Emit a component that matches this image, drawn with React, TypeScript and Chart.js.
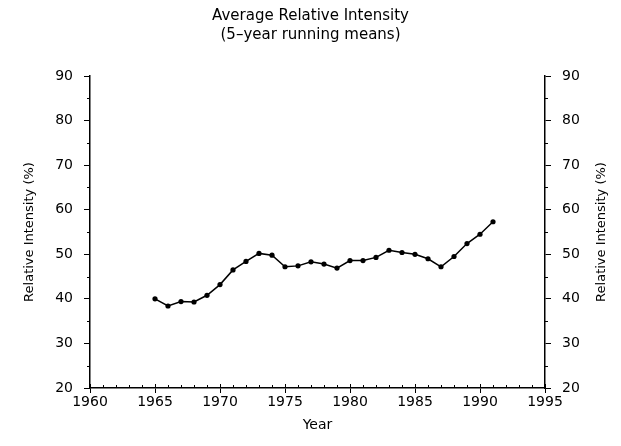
import React, { useEffect, useRef } from "react";
import { Chart, registerables } from "chart.js";

Chart.register(...registerables);

const years: number[] = [
  1965, 1966, 1967, 1968, 1969, 1970, 1971, 1972, 1973, 1974, 1975, 1976, 1977, 1978,
  1979, 1980, 1981, 1982, 1983, 1984, 1985, 1986, 1987, 1988, 1989, 1990, 1991,
];
const intensity: number[] = [
  40.0, 38.4, 39.4, 39.3, 40.8, 43.2, 46.5, 48.4, 50.2, 49.8, 47.2, 47.4, 48.3, 47.8,
  46.9, 48.6, 48.6, 49.3, 50.9, 50.4, 50.0, 49.0, 47.2, 49.5, 52.4, 54.5, 57.3,
];
const titleLines: string[] = ["Average Relative Intensity", "(5\u2013year running means)"];
const xTitle = "Year";
const yTitle = "Relative Intensity (%)";
const xMin = 1960;
const xMax = 1995;
const yMin = 20;
const yMax = 90;

const FONT = "'DejaVu Sans', sans-serif";

const minorTicks = {
  id: "minorTicks",
  afterDraw(chart: any) {
    const { ctx, chartArea } = chart;
    const xs = chart.scales.x;
    const ys = chart.scales.y;
    ctx.save();
    ctx.strokeStyle = "#000";
    ctx.lineWidth = 1;
    ctx.beginPath();
    for (let yr = xMin; yr <= xMax; yr++) {
      const px = Math.round(xs.getPixelForValue(yr)) + 0.5;
      const len = yr % 5 === 0 ? 4 : 3;
      ctx.moveTo(px, chartArea.bottom);
      ctx.lineTo(px, chartArea.bottom - len);
    }
    for (let v = yMin + 5; v < yMax; v += 10) {
      const py = Math.round(ys.getPixelForValue(v)) + 0.5;
      ctx.moveTo(chartArea.left, py);
      ctx.lineTo(chartArea.left - 3, py);
      ctx.moveTo(chartArea.right, py);
      ctx.lineTo(chartArea.right + 3, py);
    }
    ctx.stroke();
    // right axis title, reading bottom-to-top like the left one
    ctx.fillStyle = "#000";
    ctx.font = `13px ${FONT}`;
    ctx.textAlign = "center";
    ctx.textBaseline = "middle";
    ctx.translate(chart.width - 19, (chartArea.top + chartArea.bottom) / 2);
    ctx.rotate(-Math.PI / 2);
    ctx.fillText(yTitle, 0, 0);
    ctx.restore();
  },
};

export default function App() {
  const ref = useRef<HTMLCanvasElement | null>(null);
  useEffect(() => {
    if (!ref.current) return;
    const yAxis = (position: "left" | "right", width: number, showTitle: boolean) => ({
      type: "linear" as const,
      position,
      min: yMin,
      max: yMax,
      afterFit: (s: any) => {
        s.width = width;
      },
      ticks: { stepSize: 10, color: "#000", padding: 11, font: { family: FONT, size: 14 } },
      grid: {
        drawOnChartArea: false,
        drawTicks: true,
        tickLength: 6,
        tickColor: "#000",
        tickWidth: 1,
      },
      border: { display: true, color: "#000", width: 1.5 },
      title: {
        display: showTitle,
        text: yTitle,
        color: "#000",
        font: { family: FONT, size: 13 },
        padding: { top: 22, bottom: 0 },
      },
    });
    const chart = new Chart(ref.current, {
      type: "line",
      data: {
        datasets: [
          {
            data: years.map((x, i) => ({ x, y: intensity[i] })),
            borderColor: "#000",
            backgroundColor: "#000",
            borderWidth: 1.5,
            pointRadius: 2.6,
            pointBackgroundColor: "#000",
            pointBorderWidth: 0,
            tension: 0,
            yAxisID: "y",
          },
        ],
      },
      options: {
        responsive: false,
        animation: false,
        layout: { padding: 0 },
        plugins: {
          legend: { display: false },
          tooltip: { enabled: false },
          title: {
            display: true,
            text: titleLines,
            color: "#000",
            font: { family: FONT, size: 15, weight: "normal", lineHeight: 1.3 },
            padding: { top: 6, bottom: 31 },
          },
        },
        scales: {
          x: {
            type: "linear",
            position: "bottom",
            min: xMin,
            max: xMax,
            afterFit: (s: any) => {
              s.height = 58;
            },
            ticks: { stepSize: 5, color: "#000", padding: 1, font: { family: FONT, size: 14 }, callback: (v: any) => String(v) },
            grid: {
              drawOnChartArea: false,
              drawTicks: true,
              tickLength: 5,
              tickColor: "#000",
              tickWidth: 1,
            },
            border: { display: true, color: "#000", width: 1.5 },
            title: {
              display: true,
              text: xTitle,
              color: "#000",
              font: { family: FONT, size: 14 },
              padding: { top: 0, bottom: 12 },
            },
          },
          y: yAxis("left", 90, true),
          y2: yAxis("right", 76, false),
        },
      },
      plugins: [minorTicks],
    });
    return () => chart.destroy();
  }, []);
  return (
    <div style={{ position: "fixed", left: 0, top: 0, width: 621, height: 446, background: "#fff" }}>
      <canvas ref={ref} width={621} height={446} />
    </div>
  );
}
